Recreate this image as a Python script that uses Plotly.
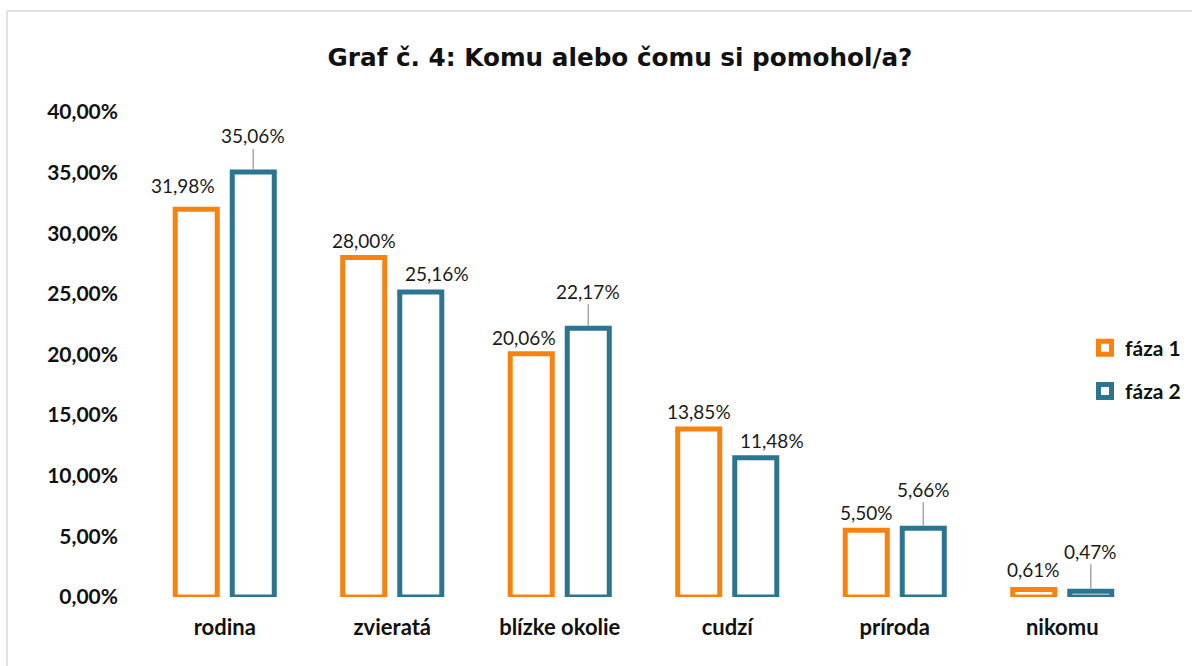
import plotly.graph_objects as go

# ---- data ----
categories = ["rodina", "zvieratá", "blízke okolie", "cudzí", "príroda", "nikomu"]
faza1 = [31.98, 28.00, 20.06, 13.85, 5.50, 0.61]
faza2 = [35.06, 25.16, 22.17, 11.48, 5.66, 0.47]
series_names = ["fáza 1", "fáza 2"]
y_ticks = [0, 5, 10, 15, 20, 25, 30, 35, 40]
y_tick_labels = ["0,00%", "5,00%", "10,00%", "15,00%", "20,00%", "25,00%", "30,00%", "35,00%", "40,00%"]
title_text = "Graf č. 4: Komu alebo čomu si pomohol/a?"

# ---- style / layout ----
W, H = 1192, 666
ML, MR, MT, MB = 141, 46, 112, 69
ORANGE = "#F7820F"
TEAL = "#2C7590"
BARGAP = 0.319
BARGROUPGAP = 0.263
LABEL_FONT = "Lato"

# label placement offsets (dx, dy in px from bar top), leader flag
off1 = [(-13, -26), (0, -19), (-7, -18), (0, -20), (0, -20), (0, -22)]
off2 = [(0, -36), (16, -20), (0, -37), (16, -19), (0, -39), (0, -40)]
lead1 = [False] * 6
lead2 = [True, False, True, False, True, True]


def fmt(v):
    return f"{v:.2f}".replace(".", ",") + "%"


fig = go.Figure()
for name, vals, col in [(series_names[0], faza1, ORANGE), (series_names[1], faza2, TEAL)]:
    fig.add_trace(go.Bar(
        x=categories, y=vals, name=name, legendgroup=name, showlegend=False,
        marker=dict(color="white", line=dict(color=col, width=5)),
        cliponaxis=False, hoverinfo="x+y",
    ))
    # legend key (thick-outlined square like the original)
    fig.add_trace(go.Scatter(
        x=[None], y=[None], mode="markers", name=name, legendgroup=name,
        marker=dict(symbol="square", size=13, color="white", line=dict(color=col, width=5)),
    ))

plot_w = W - ML - MR
cat_px = plot_w / len(categories)
slot = cat_px * (1 - BARGAP) / 2
annotations = []
for sign, vals, offs, leads in [(-1, faza1, off1, lead1), (1, faza2, off2, lead2)]:
    for c, v, (dx, dy), ld in zip(categories, vals, offs, leads):
        base = dict(x=c, y=v, xref="x", yref="y", text=fmt(v),
                    font=dict(family=LABEL_FONT, size=19, color="#1a1a1a"))
        if ld:
            annotations.append(dict(base, showarrow=True, arrowhead=0, arrowwidth=1.5,
                                    arrowcolor="#a6a6a6", ax=dx, ay=dy, standoff=2,
                                    xshift=sign * slot / 2))
        else:
            annotations.append(dict(base, showarrow=False, xanchor="center", yanchor="middle",
                                    xshift=sign * slot / 2 + dx, yshift=-dy - 2))

# frame lines (light grey border of chart area)
plot_h = H - MT - MB
px2x = lambda p: (p - ML) / plot_w
py2y = lambda p: (H - MB - p) / plot_h
shapes = [
    dict(type="line", xref="paper", yref="paper", x0=px2x(7), x1=px2x(7), y0=py2y(11), y1=py2y(H + 5),
         line=dict(color="#d9d9d9", width=1.5)),
    dict(type="line", xref="paper", yref="paper", x0=px2x(7), x1=px2x(W + 5), y0=py2y(11), y1=py2y(11),
         line=dict(color="#d9d9d9", width=1.5)),
]

fig.update_layout(
    width=W, height=H,
    margin=dict(l=ML, r=MR, t=MT, b=MB, autoexpand=False),
    paper_bgcolor="white", plot_bgcolor="white",
    barmode="group", bargap=BARGAP, bargroupgap=BARGROUPGAP,
    title=dict(text=title_text, x=620 / W, xref="container", xanchor="center",
               y=1 - 57.5 / H, yref="container", yanchor="middle",
               font=dict(family="DejaVu Sans", size=24.7, color="#111111", weight="bold")),
    showlegend=True,
    legend=dict(x=px2x(1085), xanchor="left", y=py2y(369.5), yanchor="middle",
                font=dict(family=LABEL_FONT, size=21, color="#111111", weight="bold"),
                tracegroupgap=13, bgcolor="rgba(0,0,0,0)", itemwidth=30),
    xaxis=dict(showgrid=False, showline=False, zeroline=False, ticks="",
               tickfont=dict(family=LABEL_FONT, size=22, color="#111111", weight="bold"),
               ticklabelstandoff=15),
    yaxis=dict(range=[0, 40], tickvals=y_ticks, ticktext=y_tick_labels,
               showgrid=False, showline=False, zeroline=False, ticks="",
               tickfont=dict(family=LABEL_FONT, size=21, color="#111111", weight="bold"),
               ticklabelstandoff=22),
    annotations=annotations, shapes=shapes,
)

fig.write_html("out.html", config={"displayModeBar": False},
               post_script="document.body.style.margin='0px';")
